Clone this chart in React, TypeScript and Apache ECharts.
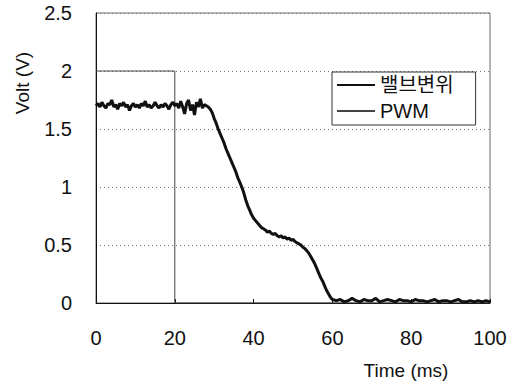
import React, { useEffect, useRef } from "react";
import * as echarts from "echarts";

const xTicks = [0, 20, 40, 60, 80, 100];
const yTicks = [0, 0.5, 1, 1.5, 2, 2.5];

const valveTime = [
  0, 0.5, 1, 1.5, 2, 2.5, 3, 3.5, 4, 4.5, 5, 5.5, 6, 6.5, 7, 7.5, 8, 8.5, 9, 9.5,
  10, 10.5, 11, 11.5, 12, 12.5, 13, 13.5, 14, 14.5, 15, 15.5, 16, 16.5, 17, 17.5, 18, 18.5, 19, 19.5,
  20, 20.5, 21, 21.5, 22, 22.5, 23, 23.5, 24, 24.5, 25, 25.5, 26, 26.5, 27, 27.5, 28, 28.5, 29, 29.5,
  30, 30.5, 31, 31.5, 32, 32.5, 33, 33.5, 34, 34.5, 35, 35.5, 36, 36.5, 37, 37.5, 38, 38.5, 39, 39.5,
  40, 40.5, 41, 41.5, 42, 42.5, 43, 43.5, 44, 44.5, 45, 45.5, 46, 46.5, 47, 47.5, 48, 48.5, 49, 49.5,
  50, 50.5, 51, 51.5, 52, 52.5, 53, 53.5, 54, 54.5, 55, 55.5, 56, 56.5, 57, 57.5, 58, 58.5, 59, 59.5,
  60, 61, 62, 63, 64, 65, 66, 67, 68, 69, 70, 71, 72, 73, 74, 75, 76, 77, 78, 79,
  80, 81, 82, 83, 84, 85, 86, 87, 88, 89, 90, 91, 92, 93, 94, 95, 96, 97, 98, 99, 100,
];
const valveVolt = [
  1.70, 1.72, 1.69, 1.73, 1.70, 1.68, 1.72, 1.71, 1.75, 1.69, 1.71, 1.67, 1.72, 1.70, 1.73, 1.69, 1.71, 1.66, 1.70, 1.72,
  1.69, 1.71, 1.68, 1.72, 1.70, 1.74, 1.69, 1.71, 1.68, 1.70, 1.73, 1.70, 1.68, 1.71, 1.69, 1.72, 1.70, 1.67, 1.71, 1.73,
  1.70, 1.72, 1.68, 1.74, 1.69, 1.63, 1.72, 1.75, 1.66, 1.71, 1.62, 1.73, 1.69, 1.76, 1.68, 1.71, 1.70, 1.69, 1.67, 1.64,
  1.59, 1.55, 1.50, 1.46, 1.42, 1.38, 1.33, 1.29, 1.25, 1.21, 1.17, 1.13, 1.08, 1.04, 1.00, 0.95, 0.89, 0.84, 0.80, 0.76,
  0.73, 0.71, 0.69, 0.67, 0.65, 0.64, 0.63, 0.61, 0.62, 0.60, 0.59, 0.60, 0.58, 0.57, 0.58, 0.56, 0.57, 0.55, 0.56, 0.54,
  0.55, 0.53, 0.52, 0.51, 0.50, 0.48, 0.47, 0.45, 0.43, 0.40, 0.37, 0.34, 0.30, 0.26, 0.22, 0.19, 0.15, 0.11, 0.08, 0.05,
  0.03, 0.02, 0.03, 0.01, 0.02, 0.04, 0.02, 0.01, 0.03, 0.02, 0.02, 0.04, 0.01, 0.02, 0.03, 0.02, 0.01, 0.03, 0.02, 0.02,
  0.01, 0.03, 0.02, 0.02, 0.01, 0.02, 0.03, 0.01, 0.02, 0.02, 0.01, 0.02, 0.03, 0.01, 0.01, 0.02, 0.01, 0.02, 0.01, 0.02, 0.01,
];

const pwmTime = [0, 20, 20, 100];
const pwmVolt = [2, 2, 0, 0];

const seriesNames = ["밸브변위", "PWM"];

const FONT = "'Liberation Sans', Arial, 'Noto Sans CJK KR', sans-serif";

export default function App() {
  const ref = useRef<HTMLDivElement>(null);
  useEffect(() => {
    if (!ref.current) return;
    const chart = echarts.init(ref.current, undefined, { renderer: "svg" });
    chart.setOption({
      animation: false,
      backgroundColor: "#fff",
      grid: {
        left: 96,
        right: 27,
        top: 13,
        bottom: 80,
        show: true,
        borderColor: "#666",
        borderWidth: 1,
      },
      legend: {
        data: seriesNames,
        orient: "vertical",
        left: 332,
        top: 72,
        icon: "rect",
        itemWidth: 38,
        itemHeight: 2,
        itemGap: 6,
        padding: [3, 22, 4, 5],
        borderColor: "#333",
        borderWidth: 1,
        backgroundColor: "#fff",
        textStyle: { fontFamily: FONT, fontSize: 20, color: "#111" },
      },
      xAxis: {
        type: "value",
        min: 0,
        max: 100,
        interval: 20,
        axisLine: { show: true, lineStyle: { color: "#111", width: 1 } },
        axisTick: { show: true, inside: true, length: 4, lineStyle: { color: "#111" } },
        splitLine: { show: false },
        axisLabel: {
          margin: 25,
          fontFamily: FONT,
          fontSize: 20,
          color: "#111",
          customValues: xTicks,
        },
      },
      yAxis: {
        type: "value",
        min: 0,
        max: 2.5,
        interval: 0.5,
        axisLine: { show: true, lineStyle: { color: "#111", width: 1 } },
        axisTick: { show: false },
        splitLine: { show: true, lineStyle: { color: "#777", type: [1, 3], width: 1 } },
        axisLabel: {
          margin: 24,
          fontFamily: FONT,
          fontSize: 20,
          color: "#111",
          customValues: yTicks,
        },
      },
      graphic: [
        {
          type: "text",
          x: 22,
          y: 83,
          rotation: Math.PI / 2,
          style: {
            text: "Volt (V)",
            fontFamily: FONT,
            fontSize: 19,
            fill: "#111",
            textAlign: "center",
            textVerticalAlign: "middle",
          },
        },
        {
          type: "text",
          x: 406,
          y: 370,
          style: {
            text: "Time (ms)",
            fontFamily: FONT,
            fontSize: 19,
            fill: "#111",
            textAlign: "center",
            textVerticalAlign: "middle",
          },
        },
      ],
      series: [
        {
          name: seriesNames[0],
          type: "line",
          data: valveTime.map((t, i) => [t, valveVolt[i]]),
          showSymbol: false,
          lineStyle: { color: "#111", width: 3 },
          itemStyle: { color: "#111" },
          z: 3,
        },
        {
          name: seriesNames[1],
          type: "line",
          data: pwmTime.map((t, i) => [t, pwmVolt[i]]),
          showSymbol: false,
          lineStyle: { color: "#444", width: 1 },
          itemStyle: { color: "#444" },
          z: 2,
        },
      ],
    });
    return () => chart.dispose();
  }, []);
  return <div ref={ref} style={{ width: 517, height: 383, position: "absolute", left: 0, top: 0 }} />;
}
